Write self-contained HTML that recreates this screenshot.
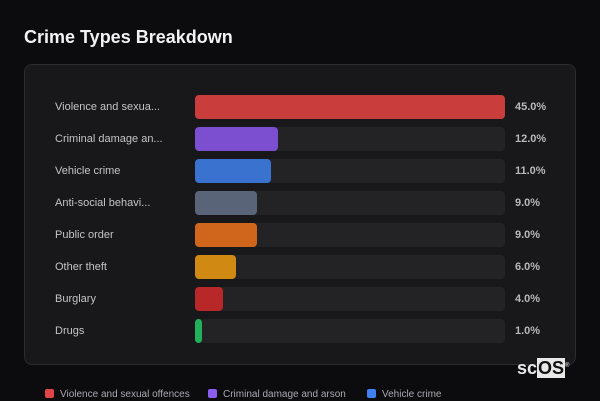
<!DOCTYPE html>
<html><head><meta charset="utf-8"><style>
body{margin:0;width:600px;height:400px;background:#0c0c0f;overflow:hidden;font-family:"Liberation Sans",sans-serif;position:relative}
.title{position:absolute;left:24px;top:27px;font-size:18px;font-weight:bold;color:#f2f2f2}
.panel{position:absolute;left:24px;top:64px;width:550px;height:299px;background:#18181b;border:1px solid #2c2c30;border-radius:8px}
.lbl{position:absolute;left:55px;font-size:11px;color:#c4c4c8;line-height:14px}
.val{position:absolute;left:515px;font-size:11px;font-weight:bold;color:#b8b8bc;line-height:14px}
.track{position:absolute;left:195px;width:310px;height:24px;background:#232326;border-radius:4px}
.bar{position:absolute;left:195px;height:24px;border-radius:4px}
.leg{position:absolute;top:389px;font-size:10px;color:#a8a8b0;line-height:12px}
.leg i{display:inline-block;width:9px;height:9px;border-radius:2px;margin-right:6px;vertical-align:-1px}
.logo{position:absolute;left:517px;top:358px;font-size:18px;font-weight:bold;color:#e8e8e8}
.logo span{background:#e8e8e8;color:#111;padding:0 1px}
</style></head><body>
<div class="title">Crime Types Breakdown</div>
<div class="panel"></div>
<div id="rows"></div>
<div class="leg" style="left:45px"><i style="background:#e04545"></i>Violence and sexual offences</div>
<div class="leg" style="left:208px"><i style="background:#8b5cf0"></i>Criminal damage and arson</div>
<div class="leg" style="left:367px"><i style="background:#3d82f0"></i>Vehicle crime</div>
<div class="logo">sc<span>OS</span><sup style="font-size:6px;font-weight:normal">®</sup></div>
<script>
const categories=["Violence and sexua...","Criminal damage an...","Vehicle crime","Anti-social behavi...","Public order","Other theft","Burglary","Drugs"];
const values=[45,12,11,9,9,6,4,1];
const colors=["#c93d3d","#7b4fcf","#3a72d0","#5a6478","#d0661c","#d08a14","#b82828","#22b05a"];
const maxV=Math.max(...values);
const x=v=>v/maxV*310;
const root=document.getElementById('rows');
categories.forEach((c,i)=>{
  const cy=107+i*32;
  const l=document.createElement('div');l.className='lbl';l.style.top=(cy-7)+'px';l.textContent=c;
  
  
  const t=document.createElement('div');t.className='track';t.style.top=(cy-12)+'px';
  
  
  const b=document.createElement('div');b.className='bar';b.style.top=(cy-12)+'px';b.style.width=Math.max(x(values[i]),6)+'px';b.style.background=colors[i];
  
  
  const v=document.createElement('div');v.className='val';v.style.top=(cy-7)+'px';v.textContent=values[i].toFixed(1)+'%';
  
  
  root.append(l,t,b,v);
});
</script>
</body></html>
